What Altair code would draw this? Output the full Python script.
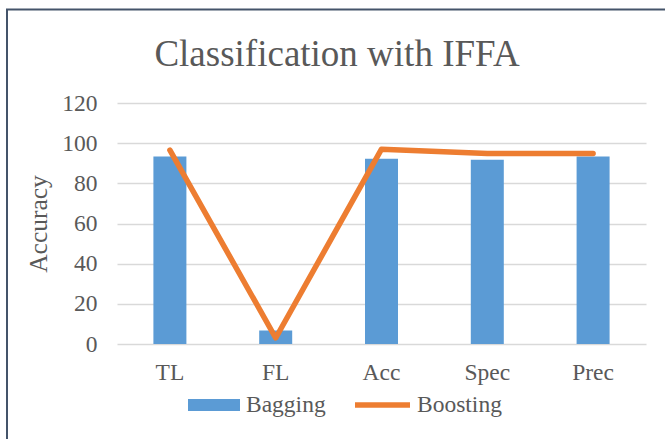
import altair as alt
import pandas as pd

# Metrics and the accuracy scores of the two ensemble methods
categories = ["TL", "FL", "Acc", "Spec", "Prec"]
bagging = [93.3, 6.7, 92.2, 91.8, 93.3]
boosting = [96.5, 3.0, 97.0, 94.8, 94.8]
y_ticks = [0, 20, 40, 60, 80, 100, 120]

BLUE = "#5B9BD5"
ORANGE = "#ED7D31"
TEXT = "#595959"
GRID = "#D9D9D9"
FONT = "Liberation Serif"

rows = []
for c, b, o in zip(categories, bagging, boosting):
    rows.append({"metric": c, "series": "Bagging", "value": b})
    rows.append({"metric": c, "series": "Boosting", "value": o})
df = pd.DataFrame(rows)

x_enc = alt.X(
    "metric:N",
    sort=categories,
    scale=alt.Scale(paddingInner=0, paddingOuter=0),
    axis=alt.Axis(
        title=None, labelAngle=0, domain=False, ticks=False, tickSize=0,
        labelFont=FONT, labelFontSize=23.5, labelColor=TEXT,
        labelBaseline="alphabetic", labelPadding=35,
    ),
)
y_enc = alt.Y(
    "value:Q",
    scale=alt.Scale(domain=[0, 120], nice=False),
    axis=alt.Axis(
        values=y_ticks, title="Accuracy", domain=False, ticks=False, tickSize=0,
        labelFont=FONT, labelFontSize=23.5, labelColor=TEXT, labelPadding=20,
        gridColor=GRID, gridWidth=1.4,
        titleFont=FONT, titleFontSize=25.5, titleColor=TEXT, titleFontWeight="normal",
        titleAngle=270, titleAlign="center", titleBaseline="middle",
        titleX=-79, titleY=120.5,
    ),
)

base = alt.Chart(df)

bars = base.transform_filter(alt.datum.series == "Bagging").mark_bar(size=33).encode(
    x=x_enc,
    y=y_enc,
    fill=alt.Fill(
        "series:N",
        scale=alt.Scale(domain=["Bagging"], range=[BLUE]),
        legend=alt.Legend(
            title=None, orient="none", legendX=71, legendY=276, padding=0,
            symbolType="M-1,-0.23H1V0.23H-1Z", symbolSize=2704,
            symbolStrokeWidth=0, symbolOpacity=1,
            labelFont=FONT, labelFontSize=23.5, labelColor=TEXT, labelOffset=6,
        ),
    ),
)

line = base.transform_filter(alt.datum.series == "Boosting").mark_line(
    strokeWidth=5.5, strokeCap="round", strokeJoin="round"
).encode(
    x=alt.X("metric:N", sort=categories),
    y=alt.Y("value:Q"),
    stroke=alt.Stroke(
        "series:N",
        scale=alt.Scale(domain=["Boosting"], range=[ORANGE]),
        legend=alt.Legend(
            title=None, orient="none", legendX=235, legendY=271.5, padding=0,
            symbolType="stroke", symbolSize=3025, symbolStrokeWidth=5.5,
            labelFont=FONT, labelFontSize=23.5, labelColor=TEXT, labelOffset=4,
        ),
    ),
)

# Outer frame of the chart
frame = alt.Chart(pd.DataFrame({"k": [0]})).mark_rect(
    fill=None, stroke="#44546A", strokeWidth=2
).encode(
    x=alt.value(-110), x2=alt.value(600), y=alt.value(-93.5), y2=alt.value(400)
)

chart = alt.layer(frame, bars, line).properties(
    width=529,
    height=241,
    autosize=alt.AutoSizeParams(type="none"),
    padding={"left": 117, "top": 103, "right": 19, "bottom": 95},
    title=alt.TitleParams(
        "Classification with IFFA", font=FONT, fontSize=37, color=TEXT,
        fontWeight="normal", anchor="middle", frame="group", dx=-44.5,
        offset=-94, baseline="alphabetic",
    ),
).configure(
    background="white", font=FONT
).configure_view(
    stroke=None
).configure_axis(
    labelFont=FONT, titleFont=FONT
).configure_legend(
    labelFont=FONT
)

chart.save("out.html", embed_options={"renderer": "svg", "actions": False})
